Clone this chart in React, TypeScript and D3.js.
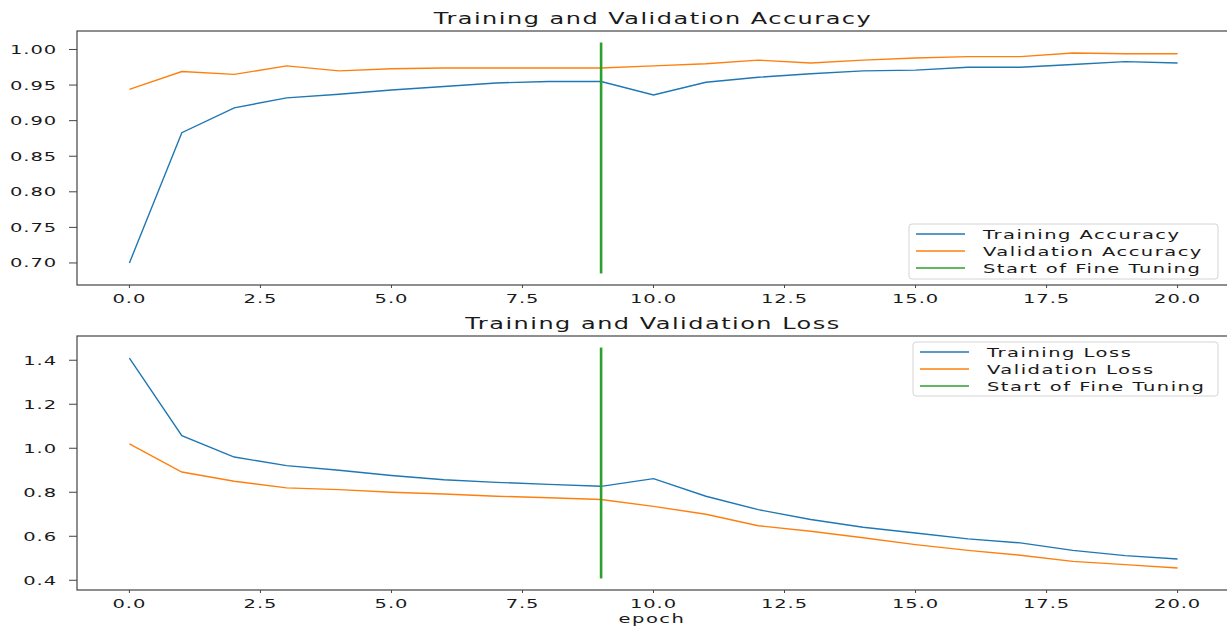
import React from 'react';
import * as d3 from 'd3';

// epochs 0..20, fine tuning starts after epoch 9
const epochs = d3.range(0, 21);
const fineTuneEpoch = 9;

const trainAcc = [0.700, 0.883, 0.918, 0.932, 0.937, 0.943, 0.948, 0.953, 0.955, 0.955,
    0.936, 0.954, 0.961, 0.966, 0.970, 0.971, 0.975, 0.975, 0.979, 0.983, 0.981];
const valAcc = [0.944, 0.969, 0.965, 0.977, 0.970, 0.973, 0.974, 0.974, 0.974, 0.974,
    0.977, 0.980, 0.985, 0.981, 0.985, 0.988, 0.990, 0.990, 0.995, 0.994, 0.994];

const trainLoss = [1.41, 1.057, 0.960, 0.921, 0.900, 0.876, 0.857, 0.845, 0.836, 0.827,
    0.862, 0.782, 0.721, 0.676, 0.641, 0.615, 0.588, 0.570, 0.536, 0.512, 0.497];
const valLoss = [1.02, 0.892, 0.850, 0.820, 0.812, 0.800, 0.792, 0.782, 0.775, 0.767,
    0.736, 0.700, 0.648, 0.623, 0.593, 0.562, 0.536, 0.514, 0.486, 0.471, 0.456];

const xTicks = [0, 2.5, 5, 7.5, 10, 12.5, 15, 17.5, 20];
const accTicks = [0.70, 0.75, 0.80, 0.85, 0.90, 0.95, 1.00];
const lossTicks = [0.4, 0.6, 0.8, 1.0, 1.2, 1.4];

const accLabels = ['Training Accuracy', 'Validation Accuracy', 'Start of Fine Tuning'];
const lossLabels = ['Training Loss', 'Validation Loss', 'Start of Fine Tuning'];

const colors = ['#1f77b4', '#ff7f0e', '#2ca02c'];
const font = '"DejaVu Sans", sans-serif';
const stretch = 1.5; // the picture is squeezed, text looks wide

// matplotlib style autoscale: 5% margin on each side
function pad([lo, hi]) {
    const m = (hi - lo) * 0.05;
    return [lo - m, hi + m];
}

const xScale = d3.scaleLinear().domain([-1, 21]).range([77, 1230]);

function Text({x, y, anchor = 'middle', size = 13, spacing = 0.6, children}) {
    return <text transform={`translate(${x},${y}) scale(${stretch},1)`} textAnchor={anchor}
                 fontFamily={font} fontSize={size} letterSpacing={spacing} fill="#1a1a1a">{children}</text>;
}

function Panel({top, bottom, series, yTicks, yFmt, title, labels, legendBox, xLabel}) {
    const all = series.flat();
    const vline = pad(d3.extent(all));
    const yDomain = pad(vline);
    const y = d3.scaleLinear().domain(yDomain).range([bottom, top]);
    const line = d3.line().x((d, i) => xScale(epochs[i])).y(d => y(d));
    const [x0, x1] = xScale.range();
    const lb = legendBox;

    return <g>
        <Text x={653} y={top - 7} size={16} spacing={1}>{title}</Text>
        {series.map((s, i) =>
            <path key={i} d={line(s)} fill="none" stroke={colors[i]} strokeWidth={1.4}/>)}
        <line x1={xScale(fineTuneEpoch)} x2={xScale(fineTuneEpoch)} y1={y(vline[0])} y2={y(vline[1])}
              stroke={colors[2]} strokeWidth={2.6}/>
        <rect x={x0} y={top} width={x1 - x0} height={bottom - top} fill="none" stroke="#444" strokeWidth={1.2}/>
        {yTicks.map(t => <g key={t}>
            <line x1={x0 - 8} x2={x0} y1={y(t)} y2={y(t)} stroke="#444"/>
            <Text x={57} y={y(t) + 4.5} anchor="end">{d3.format(yFmt)(t)}</Text>
        </g>)}
        {xTicks.map(t => <g key={t}>
            <line x1={xScale(t)} x2={xScale(t)} y1={bottom} y2={bottom + 3} stroke="#444"/>
            <Text x={xScale(t)} y={bottom + 18}>{d3.format('.1f')(t)}</Text>
        </g>)}
        {xLabel && <Text x={652} y={bottom + 33} spacing={1}>{xLabel}</Text>}
        <rect x={lb.x} y={lb.y} width={lb.w} height={lb.h} rx={3} fill="white" fillOpacity={0.8}
              stroke="#d4d4d4"/>
        {labels.map((l, i) => <g key={l}>
            <line x1={lb.x + 7} x2={lb.x + 56} y1={lb.y + 10 + i * 17} y2={lb.y + 10 + i * 17}
                  stroke={colors[i]} strokeWidth={1.6}/>
            <Text x={lb.x + 74} y={lb.y + 14.5 + i * 17} anchor="start" spacing={1}>{l}</Text>
        </g>)}
    </g>;
}

export default function App() {
    return <svg width={1227} height={628} style={{position: 'absolute', left: 0, top: 0, background: 'white'}}>
        <rect width={1227} height={628} fill="white"/>
        <Panel top={31} bottom={285} series={[trainAcc, valAcc]} yTicks={accTicks} yFmt=".2f"
               title="Training and Validation Accuracy" labels={accLabels}
               legendBox={{x: 909, y: 224, w: 309, h: 55}}/>
        <Panel top={336} bottom={590} series={[trainLoss, valLoss]} yTicks={lossTicks} yFmt=".1f"
               title="Training and Validation Loss" labels={lossLabels}
               legendBox={{x: 913, y: 342, w: 305, h: 54}} xLabel="epoch"/>
    </svg>;
}
